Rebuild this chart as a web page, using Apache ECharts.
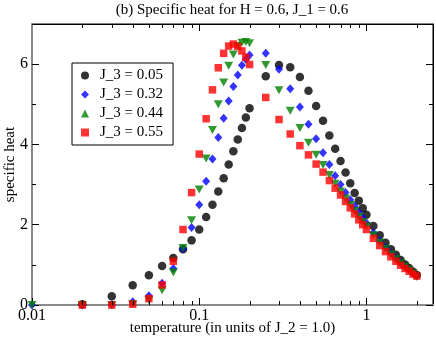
<!DOCTYPE html>
<html>
<head>
<meta charset="utf-8">
<script src="https://cdn.jsdelivr.net/npm/echarts@6/dist/echarts.min.js"></script>
<style>
  html, body { margin: 0; padding: 0; background: #fff; }
  #chart { width: 436px; height: 342px; }
</style>
</head>
<body>
<div id="chart"></div>
<script>
// temperatures (common grid for all runs)
var temps = [0.01, 0.02, 0.03, 0.04, 0.05, 0.06, 0.07, 0.08, 0.09, 0.10,
  0.11, 0.12, 0.13, 0.14, 0.15, 0.16, 0.17, 0.18, 0.19, 0.20,
  0.25, 0.30, 0.35, 0.40, 0.45, 0.50, 0.55, 0.60, 0.65, 0.70,
  0.75, 0.80, 0.85, 0.90, 0.95, 1.0, 1.1, 1.2, 1.3, 1.4,
  1.5, 1.6, 1.7, 1.8, 1.9, 2.0]

var heatJ005 = [null, 0.02, 0.22, 0.49, 0.74, 0.97, 1.17, 1.39, 1.61, 1.88,
  2.19, 2.50, 2.83, 3.16, 3.50, 3.83, 4.12, 4.41, 4.67, 4.90,
  5.70, 5.98, 5.92, 5.68, 5.34, 4.96, 4.59, 4.22, 3.89, 3.59,
  3.30, 3.03, 2.79, 2.60, 2.41, 2.25, 1.97, 1.74, 1.55, 1.39,
  1.25, 1.12, 1.01, 0.92, 0.83, 0.75]

var heatJ032 = [0, 0, 0.01, 0.08, 0.23, 0.54, 0.91, 1.40, 1.93, 2.50,
  3.08, 3.64, 4.17, 4.65, 5.08, 5.44, 5.73, 5.97, 6.12, 6.23,
  6.27, 5.87, 5.39, 4.93, 4.50, 4.14, 3.79, 3.50, 3.22, 3.00,
  2.80, 2.62, 2.46, 2.31, 2.17, 2.04, 1.80, 1.60, 1.43, 1.29,
  1.16, 1.05, 0.96, 0.88, 0.80, 0.73]

var heatJ044 = [0, 0, 0, 0.02, 0.12, 0.37, 0.81, 1.42, 2.11, 2.88,
  3.65, 4.36, 5.00, 5.54, 5.96, 6.24, 6.45, 6.53, 6.55, 6.52,
  5.98, 5.35, 4.84, 4.41, 4.04, 3.74, 3.49, 3.24, 3.02, 2.83,
  2.65, 2.49, 2.34, 2.20, 2.07, 1.96, 1.74, 1.56, 1.40, 1.26,
  1.14, 1.04, 0.95, 0.87, 0.79, 0.70]

var heatJ055 = [null, 0, 0, 0.02, 0.16, 0.50, 1.09, 1.88, 2.80, 3.76,
  4.64, 5.36, 5.91, 6.27, 6.45, 6.50, 6.44, 6.33, 6.17, 5.99,
  5.17, 4.62, 4.26, 3.97, 3.74, 3.51, 3.31, 3.10, 2.91, 2.74,
  2.58, 2.42, 2.27, 2.12, 2.00, 1.88, 1.66, 1.48, 1.33, 1.20,
  1.09, 0.99, 0.91, 0.84, 0.77, 0.72]

var seriesNames = ['J_3 = 0.05', 'J_3 = 0.32', 'J_3 = 0.44', 'J_3 = 0.55']
var majorTempTicks = [0.1, 1]
var minorTempTicks = [0.02, 0.03, 0.04, 0.05, 0.06, 0.07, 0.08, 0.09,
  0.2, 0.3, 0.4, 0.5, 0.6, 0.7, 0.8, 0.9, 2]

var font = 'Liberation Serif'

function pairs (ys) {
  var out = []
  for (var i = 0; i < temps.length; i++) {
    if (ys[i] !== null) out.push([temps[i], ys[i]])
  }
  return out
}

var chart = echarts.init(document.getElementById('chart'), null, { renderer: 'canvas' })

var yMax = 7
var xMin = 0.01
var xMax = 2.5

function isDecade (v) {
  var l = Math.log10(v)
  return Math.abs(l - Math.round(l)) < 1e-6
}

var yBase = {
  type: 'value', min: 0, max: yMax, splitLine: { show: false }
}

// ticks along the top edge (major + minor) and minor ticks at the bottom
var topTicks = majorTempTicks.map(function (t) { return [t, 0, 7] })
  .concat(minorTempTicks.map(function (t) { return [t, 0, 4] }))

chart.setOption({
  animation: false,
  backgroundColor: '#fff',
  title: {
    text: '(b) Specific heat for H = 0.6, J_1 = 0.6',
    left: 232, textAlign: 'center', top: 3, padding: 0,
    textStyle: { fontFamily: font, fontSize: 15, fontWeight: 'normal', color: '#000' }
  },
  legend: {
    data: seriesNames.map(function (n) { return { name: n } }),
    orient: 'vertical',
    left: 72, top: 63,
    padding: [5, 10, 5, 9],
    itemWidth: 8, itemHeight: 8, itemGap: 4,
    borderColor: '#000', borderWidth: 1,
    textStyle: { fontFamily: font, fontSize: 15, lineHeight: 14, color: '#000', padding: [0, 0, 0, 6] }
  },
  grid: {
    left: 32, right: 3, top: 24, bottom: 37,
    show: true, borderColor: '#000', borderWidth: 1, backgroundColor: 'transparent',
    containLabel: false, outerBoundsMode: 'none'
  },
  xAxis: {
    type: 'log', logBase: 10, min: xMin, max: xMax,
    name: 'temperature (in units of J_2 = 1.0)',
    nameLocation: 'middle', nameGap: 16, nameMoveOverlap: false,
    nameTextStyle: { fontFamily: font, fontSize: 15, color: '#000' },
    axisLine: { lineStyle: { color: '#8a8a8a', width: 2 } },
    axisTick: { inside: true, length: 7, lineStyle: { color: '#000' } },
    axisLabel: {
      margin: 3, fontFamily: font, fontSize: 16, color: '#000', showMaxLabel: false,
      formatter: function (v) { return isDecade(v) ? String(+v.toPrecision(3)) : '' }
    },
    splitLine: { show: false }
  },
  yAxis: [
    Object.assign({}, yBase, {
      interval: 2, position: 'left',
      name: 'specific heat', nameLocation: 'middle', nameGap: 14, nameRotate: 90,
      nameMoveOverlap: false,
      nameTextStyle: { fontFamily: font, fontSize: 15, color: '#000' },
      axisLine: { lineStyle: { color: '#8a8a8a', width: 2 } },
      axisTick: { inside: true, length: 7, lineStyle: { color: '#000' } },
      axisLabel: { margin: 4, fontFamily: font, fontSize: 16, color: '#000', showMaxLabel: false }
    }),
    Object.assign({}, yBase, {
      interval: 1, position: 'left',
      axisLine: { show: false },
      axisTick: { inside: true, length: 4, lineStyle: { color: '#000' } },
      axisLabel: { show: false }
    }),
    Object.assign({}, yBase, {
      interval: 2, position: 'right',
      axisLine: { lineStyle: { color: '#000', width: 1 } },
      axisTick: { inside: true, length: 7, lineStyle: { color: '#000' } },
      axisLabel: { show: false }
    }),
    Object.assign({}, yBase, {
      interval: 1, position: 'right',
      axisLine: { show: false },
      axisTick: { inside: true, length: 4, lineStyle: { color: '#000' } },
      axisLabel: { show: false }
    })
  ],
  series: [
    {
      // top frame line and extra ticks of the log axis (minor at bottom, all at top)
      type: 'custom', silent: true, clip: false, z: 10,
      data: topTicks,
      renderItem: function (params, api) {
        var v = api.value(0)
        var len = api.value(2)
        var b = api.coord([v, 0])
        var t = api.coord([v, yMax])
        var x = Math.round(b[0]) + 0.5
        var kids = [
          { type: 'line', shape: { x1: x, y1: t[1], x2: x, y2: t[1] + len }, style: { stroke: '#000', lineWidth: 1 } }
        ]
        if (len < 7) {
          kids.push({ type: 'line', shape: { x1: x, y1: b[1], x2: x, y2: b[1] - len }, style: { stroke: '#000', lineWidth: 1 } })
        }
        if (params.dataIndex === 0) {
          var l = api.coord([xMin, yMax])
          var r = api.coord([xMax, yMax])
          var y = Math.round(l[1]) + 0.5
          kids.push({ type: 'line', shape: { x1: l[0], y1: y, x2: r[0], y2: y }, style: { stroke: '#000', lineWidth: 1 } })
        }
        return { type: 'group', children: kids }
      }
    },
    {
      name: seriesNames[0], type: 'scatter', data: pairs(heatJ005),
      symbol: 'circle', symbolSize: 8.5, itemStyle: { color: '#000' }, z: 2
    },
    {
      name: seriesNames[1], type: 'scatter', data: pairs(heatJ032),
      symbol: 'diamond', symbolSize: [8, 9], itemStyle: { color: '#0000ff' }, z: 3
    },
    {
      name: seriesNames[2], type: 'scatter', data: pairs(heatJ044),
      symbol: 'triangle', symbolRotate: 180, symbolSize: [9, 8], itemStyle: { color: '#008000' }, z: 4
    },
    {
      name: seriesNames[3], type: 'scatter', data: pairs(heatJ055),
      symbol: 'rect', symbolSize: 7.5, itemStyle: { color: '#ff0000' }, z: 5
    }
  ]
})
</script>
</body>
</html>
